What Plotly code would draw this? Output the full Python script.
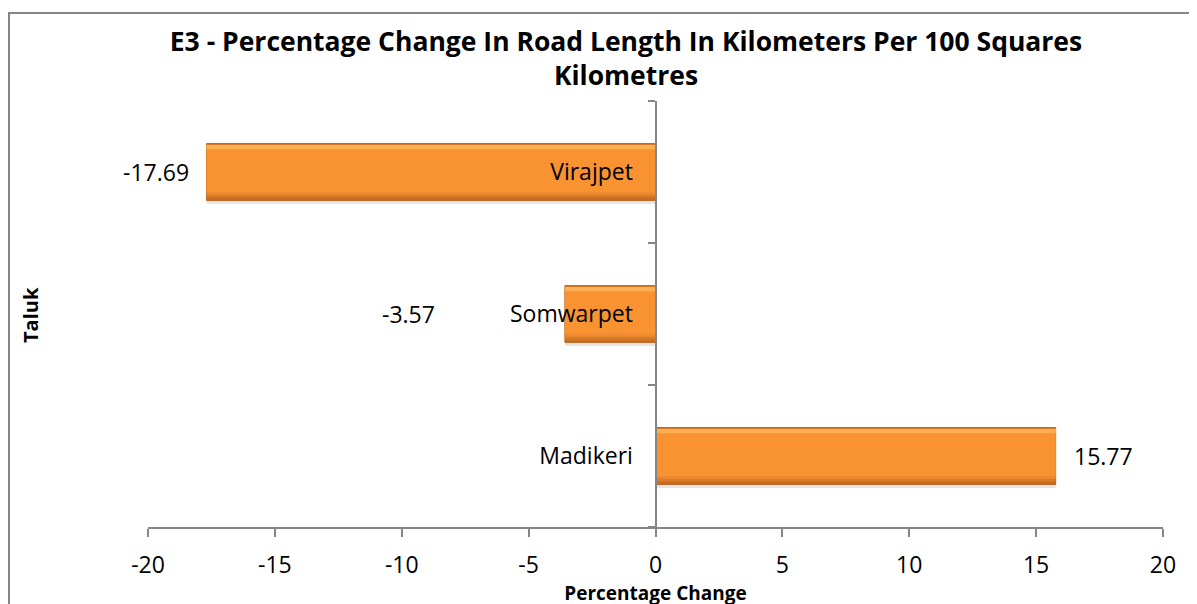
import plotly.graph_objects as go

# ---- data ----
taluks = ["Madikeri", "Somwarpet", "Virajpet"]
pct_change = [15.77, -3.57, -17.69]
value_labels = ["15.77", "-3.57", "-17.69"]
x_ticks = [-20, -15, -10, -5, 0, 5, 10, 15, 20]
x_tick_labels = ["-20", "-15", "-10", "-5", "0", "5", "10", "15", "20"]

title_text = "E3 - Percentage Change In Road Length In Kilometers Per 100 Squares<br>Kilometres"

# ---- layout geometry (figure pixels; page has an 8px body offset) ----
W, H = 1197, 604
L, T = 140, 93
PW, PH = 1015, 426
R = W - L - PW
B = H - T - PH

def px(x):
    return (x - L) / PW

def py(y):
    return (T + PH - y) / PH

FONT = "Open Sans"
GRAY = "#868686"

fig = go.Figure()

# soft shadow
fig.add_trace(go.Bar(
    y=taluks, x=pct_change, orientation="h",
    width=0.4, offset=-0.225,
    marker=dict(color="rgba(0,0,0,0.10)", line=dict(width=0)),
    hoverinfo="skip", showlegend=False,
))
# dark bottom edge
fig.add_trace(go.Bar(
    y=taluks, x=pct_change, orientation="h",
    width=0.4, offset=-0.2,
    marker=dict(color="#C86D22", line=dict(color="#B8651F", width=1)),
    hoverinfo="skip", showlegend=False,
))
# mid gradient
fig.add_trace(go.Bar(
    y=taluks, x=pct_change, orientation="h",
    width=0.375, offset=-0.18,
    marker=dict(color="#DA7B29", line=dict(width=0)),
    hoverinfo="skip", showlegend=False,
))
fig.add_trace(go.Bar(
    y=taluks, x=pct_change, orientation="h",
    width=0.35, offset=-0.16,
    marker=dict(color="#EE8A2F", line=dict(width=0)),
    hoverinfo="skip", showlegend=False,
))
# main body
fig.add_trace(go.Bar(
    y=taluks, x=pct_change, orientation="h",
    width=0.33, offset=-0.14,
    marker=dict(color="#F99332", line=dict(width=0)),
    hoverinfo="skip", showlegend=False,
))
# top highlight
fig.add_trace(go.Bar(
    y=taluks, x=pct_change, orientation="h",
    width=0.03, offset=0.16,
    marker=dict(color="#FCAE52", line=dict(width=0)),
    hoverinfo="skip", showlegend=False,
))

# data labels
label_shift = [16, -128, -16]
for cat, v, lab, sh in zip(taluks, pct_change, value_labels, label_shift):
    fig.add_annotation(
        x=v, y=cat, xref="x", yref="y", text=lab, showarrow=False,
        xanchor="left" if v > 0 else "right", yanchor="middle",
        xshift=sh, font=dict(family=FONT, size=23, color="#000000"),
    )

# y-axis title
fig.add_annotation(
    x=px(22), y=py(307), xref="paper", yref="paper", text="<b>Taluk</b>",
    showarrow=False, textangle=-90, xanchor="center", yanchor="middle",
    font=dict(family=FONT, size=20, color="#000000"),
)

# chart border
fig.add_shape(
    type="rect", xref="paper", yref="paper",
    x0=px(1), x1=px(1400), y0=py(900), y1=py(5),
    line=dict(color=GRAY, width=2), fillcolor="rgba(0,0,0,0)", layer="below",
)

fig.update_layout(
    width=W, height=H,
    margin=dict(l=L, r=R, t=T, b=B, pad=0),
    paper_bgcolor="white", plot_bgcolor="white",
    barmode="overlay",
    showlegend=False,
    title=dict(
        text=title_text, x=618 / W, xref="container", xanchor="center",
        y=1 - 43 / H, yref="container", yanchor="top",
        font=dict(family=FONT, size=26.5, color="#000000", weight="bold"),
    ),
    xaxis=dict(
        range=[-20, 20], tickvals=x_ticks, ticktext=x_tick_labels,
        showgrid=False, zeroline=False,
        showline=True, linecolor=GRAY, linewidth=2,
        ticks="outside", ticklen=8, tickwidth=2, tickcolor=GRAY,
        ticklabelstandoff=8,
        tickfont=dict(family=FONT, size=23, color="#000000"),
        title=dict(text="<b>Percentage Change</b>", standoff=0,
                   font=dict(family=FONT, size=19, color="#000000")),
        fixedrange=True,
    ),
    yaxis=dict(
        categoryorder="array", categoryarray=taluks,
        range=[-0.5, 2.5],
        anchor="free", position=0.5,
        showgrid=False, zeroline=False,
        showline=True, linecolor=GRAY, linewidth=2,
        ticks="outside", tickson="boundaries", ticklen=7, tickwidth=2, tickcolor=GRAY,
        ticklabelstandoff=17,
        tickfont=dict(family=FONT, size=23, color="#000000"),
        fixedrange=True,
    ),
)

fig.write_html("out.html")
